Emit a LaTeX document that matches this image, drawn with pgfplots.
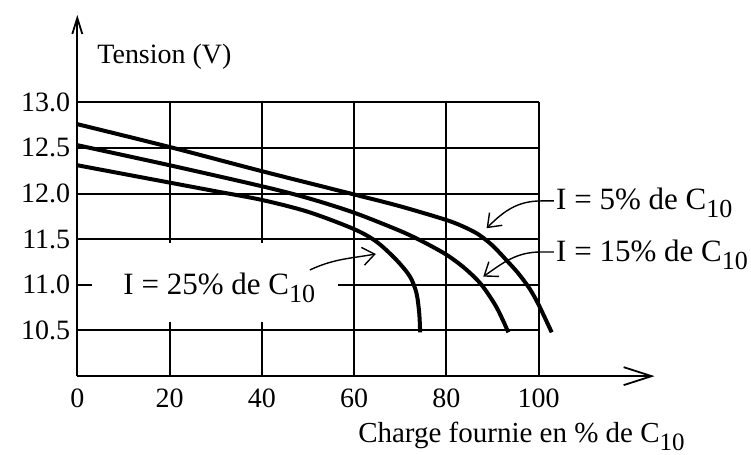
\documentclass[border=0pt]{standalone}
\usepackage{fontspec}
\setmainfont{Liberation Serif}
\usepackage{pgfplots}
\pgfplotsset{compat=1.18}
\usetikzlibrary{arrows.meta}
\newcommand{\Cdix}{C\raisebox{-4pt}{\fontsize{12.5}{12.5}\selectfont 10}}
\newcommand{\Cdixb}{C\raisebox{-4pt}{\fontsize{13}{13}\selectfont 10}}
\begin{document}
\begin{tikzpicture}[font=\fontsize{14}{17}\selectfont]
\begin{axis}[
  scale only axis, width=288.67pt, height=180.6pt,
  xmin=0, xmax=125.1, ymin=10, ymax=13.956,
  axis lines=left,
  axis line style={line width=1pt},
  x axis line style={-{Straight Barb[length=14pt,width=9pt,line width=0.9pt]}},
  y axis line style={-{Straight Barb[length=8pt,width=5pt,line width=0.9pt]}},
  xtick={0,20,40,60,80,100},
  ytick={10.5,11,11.5,12,12.5,13},
  major tick length=0pt,
  /pgf/number format/assume math mode=true,
  yticklabel style={/pgf/number format/fixed,/pgf/number format/fixed zerofill,/pgf/number format/precision=1},
  xticklabel style={yshift=-3pt},
  clip=false,
]
% grid
\draw[line width=1pt] (axis cs:0,10.5) -- (axis cs:100,10.5);
\draw[line width=1pt] (axis cs:0,11) -- (axis cs:100,11);
\draw[line width=1pt] (axis cs:0,11.5) -- (axis cs:100,11.5);
\draw[line width=1pt] (axis cs:0,12) -- (axis cs:100,12);
\draw[line width=1pt] (axis cs:0,12.5) -- (axis cs:100,12.5);
\draw[line width=1pt] (axis cs:0,13) -- (axis cs:100,13);
\draw[line width=1pt] (axis cs:20,10) -- (axis cs:20,13);
\draw[line width=1pt] (axis cs:40,10) -- (axis cs:40,13);
\draw[line width=1pt] (axis cs:60,10) -- (axis cs:60,13);
\draw[line width=1pt] (axis cs:80,10) -- (axis cs:80,13);
\draw[line width=1pt] (axis cs:100,10) -- (axis cs:100,13);
\fill[white] (axis cs:3.1,10.59) rectangle (axis cs:56.5,11.46);
% curves
\addplot[smooth, tension=0.5, line width=2pt] coordinates {
 (0,12.76) (20,12.51) (40,12.245) (60,11.99)
 (70,11.86) (80,11.71) (84,11.63) (87,11.55) (90,11.43) (93,11.27) (95.5,11.13) (98,10.96) (100,10.78) (102.8,10.48)};
\addplot[smooth, tension=0.5, line width=2pt] coordinates {
 (0,12.53) (20,12.31) (40,12.08) (50,11.95) (60,11.79)
 (70,11.59) (75,11.47) (80,11.33) (84,11.18) (87.6,11.0) (90.9,10.75) (93.4,10.48)};
\addplot[smooth, tension=0.5, line width=2pt] coordinates {
 (0,12.31) (20,12.12) (30,12.025) (40,11.93) (50,11.80) (60,11.61)
 (64.9,11.47) (69.2,11.27) (72.1,11.09) (73.5,10.91) (74.1,10.69) (74.3,10.48)};
% annotations
\node[anchor=base west, inner sep=0pt, font=\fontsize{15.5}{18}\selectfont] at (axis cs:103.7,11.82) {I = 5\% de \Cdixb};
\node[anchor=base west, inner sep=0pt, font=\fontsize{15.5}{18}\selectfont] at (axis cs:103.7,11.254) {I = 15\% de \Cdixb};
\node[anchor=base west, inner sep=0pt, font=\fontsize{15.5}{18}\selectfont] at (axis cs:9.92,10.889) {I = 25\% de \Cdixb};
\draw[line width=0.7pt, -{Straight Barb[length=6pt,width=9pt]}] (axis cs:103.3,11.919) -- (axis cs:100.5,11.919) to[out=180,in=45] (axis cs:88.7,11.62);
\draw[line width=0.7pt, -{Straight Barb[length=6pt,width=9pt]}] (axis cs:103.3,11.36) -- (axis cs:100.5,11.36) to[out=180,in=35] (axis cs:87.97,11.09);
\draw[line width=0.7pt, -{Straight Barb[length=6pt,width=9pt]}] (axis cs:50.4,11.163) to[out=25,in=190] (axis cs:64.7,11.338);
% axis titles
\node[anchor=base west, inner sep=0pt] at (axis cs:4.27,13.427) {Tension (V)};
\node[anchor=base west, inner sep=0pt, font=\fontsize{14.5}{17}\selectfont] at (axis cs:60.8,9.268) {Charge fournie en \% de \Cdix};
\coordinate (bl) at (axis cs:-16.75,9.137);
\coordinate (tr) at (axis cs:146,14.12);
\end{axis}
\pgfresetboundingbox
\path[use as bounding box] (bl) rectangle (tr);
\end{tikzpicture}
\end{document}
